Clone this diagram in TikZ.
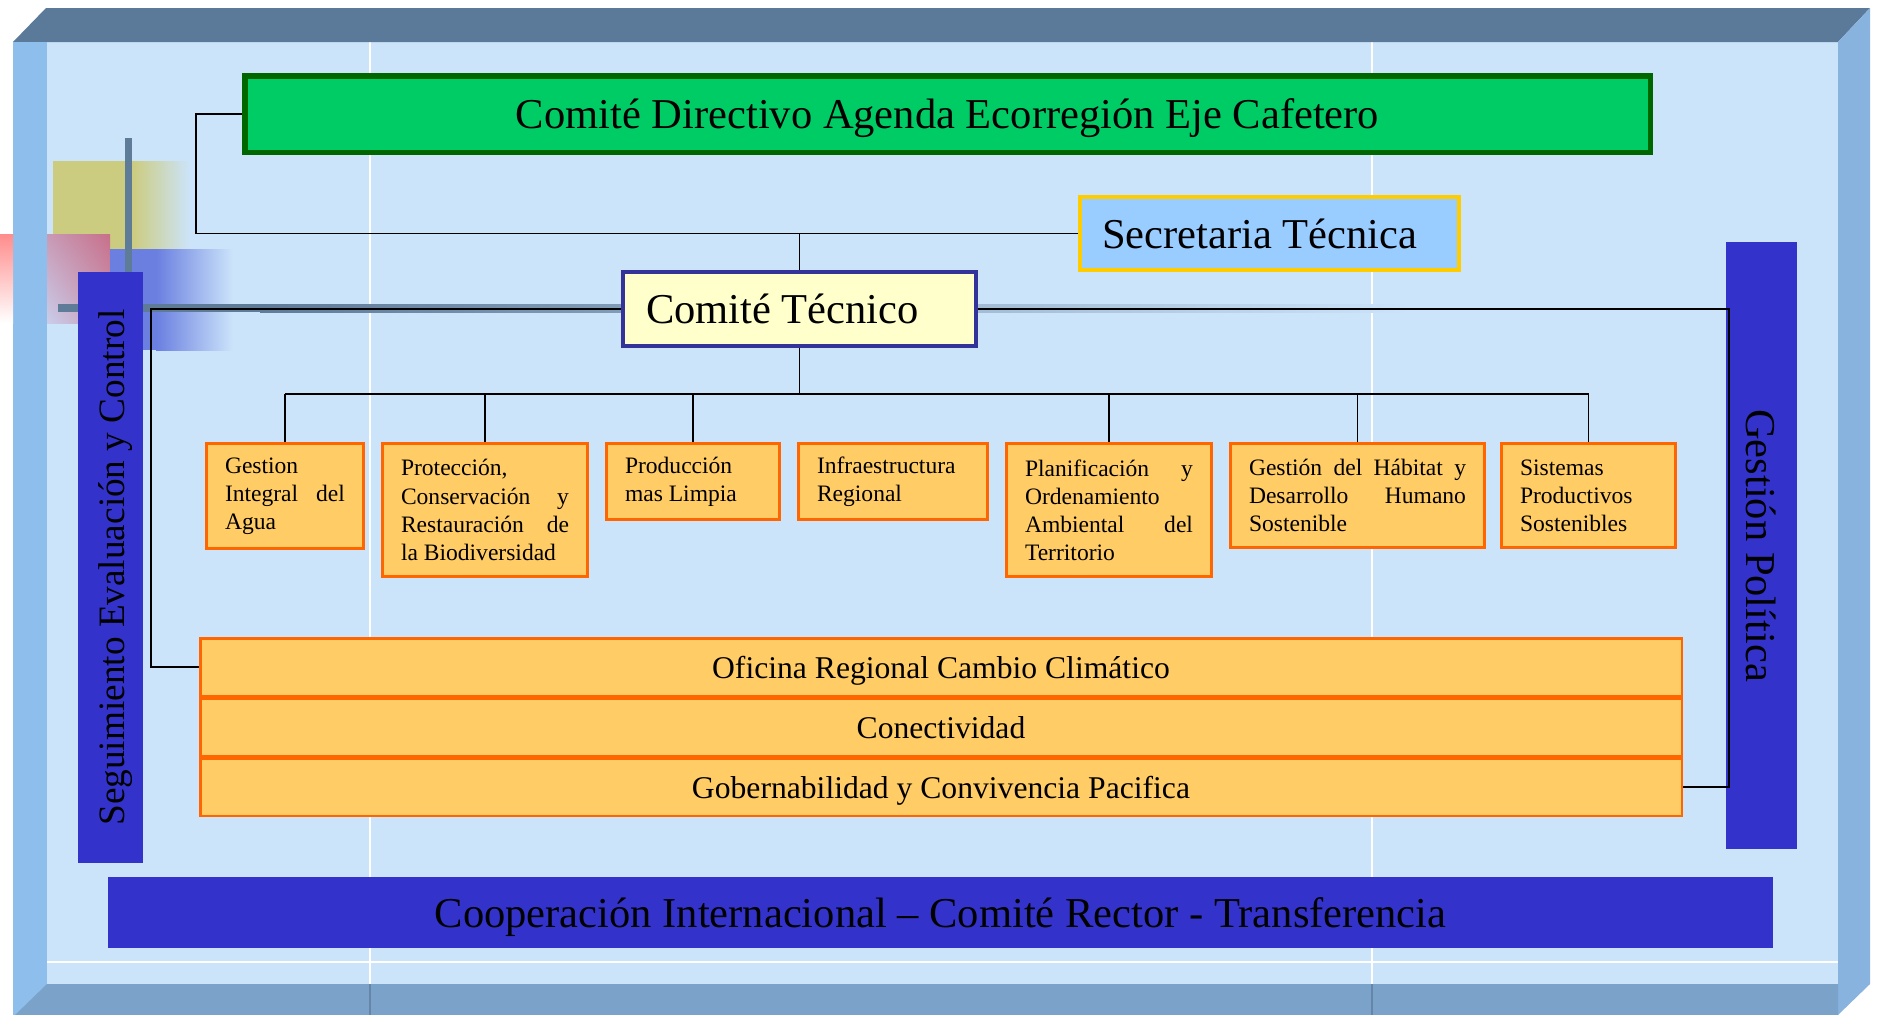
\documentclass[tikz,border=0pt]{standalone}
\usepackage{fontspec}
\setmainfont{Liberation Serif}
\usetikzlibrary{shadings}
\definecolor{panel}{HTML}{CCE4FA}
\definecolor{bevtop}{HTML}{5B7A99}
\definecolor{bevleft}{HTML}{8EBEEB}
\definecolor{bevright}{HTML}{88B3DF}
\definecolor{bevbot}{HTML}{7BA3CA}
\definecolor{dirgreen}{HTML}{00CC66}
\definecolor{dirborder}{HTML}{006600}
\definecolor{secblue}{HTML}{99CCFF}
\definecolor{secyellow}{HTML}{FFCC00}
\definecolor{tecfill}{HTML}{FFFFCC}
\definecolor{tecborder}{HTML}{333399}
\definecolor{areafill}{HTML}{FFCC66}
\definecolor{areaborder}{HTML}{FF6600}
\definecolor{barblue}{HTML}{3333CC}
\definecolor{decoolive}{HTML}{CCCC80}
\definecolor{decopink}{HTML}{C8708A}
\definecolor{decolav}{HTML}{C9CDEA}
\definecolor{decoblue}{HTML}{6A7FE0}
\definecolor{decogray}{HTML}{5E7B98}
\newcommand{\spreadline}[2]{\makebox[#1][s]{#2}}
\tikzset{
  lowered/.style={text height=0.9em, text depth=0.25em, inner ysep=0pt},
  head/.style={font=\fontsize{12.1}{14}\selectfont, lowered, text height=1.1em},
  area/.style={draw=areaborder, fill=areafill, line width=0.3mm, anchor=north west,
    align=justify, inner xsep=1.85mm, font=\fontsize{6.7}{8}\selectfont},
  band/.style={draw=areaborder, fill=areafill, line width=0.25mm, anchor=north west,
    minimum width=148.15mm, minimum height=5.75mm, font=\fontsize{9}{11}\selectfont, lowered},
  bar/.style={fill=barblue, inner sep=0pt, lowered},
  link/.style={line width=0.5pt},
}
\begin{document}
\begin{tikzpicture}[x=0.1mm,y=-0.1mm]
\useasboundingbox (0,0) rectangle (1877,1015);
\fill[panel] (47,42) rectangle (1838,984);
\draw[white,line width=0.15mm] (370,42) -- (370,984) (1372,42) -- (1372,984) (47,962) -- (1838,962);
\fill[bevtop] (46,8) -- (1870,8) -- (1838,42) -- (13,42) -- cycle;
\fill[bevleft] (13,42) rectangle (47,1015);
\fill[bevright] (1870,8) -- (1870,984) -- (1838,1015) -- (1838,42) -- cycle;
\fill[bevbot] (47,984) -- (1838,984) -- (1838,1015) -- (15,1015) -- cycle;
\draw[bevtop!70!bevbot,line width=0.15mm] (370,984) -- (370,1015) (1372,984) -- (1372,1015);

\fill[decoolive] (53,161) rectangle (133,250);
\shade[left color=decoolive, right color=panel] (133,161) rectangle (190,250);
\shade[top color=red!45, bottom color=white] (0,234) rectangle (13,323);
\shade[upper left=decopink!55!decolav, upper right=decopink, lower left=decolav, lower right=decopink!55!decolav] (47,234) rectangle (110,323);
\fill[decoblue] (110,249) rectangle (156,350);
\shade[left color=decoblue, right color=panel] (156,249) rectangle (233,350);
\fill[decogray] (125,138) rectangle (132,272);
\fill[decogray] (58,304) rectangle (260,312);
\shade[left color=decogray, right color=panel] (260,304) rectangle (1410,312);

\node[bar, rotate=90, minimum width=59.1mm, minimum height=6.5mm, font=\fontsize{10.6}{12}\selectfont, text height=1.05em] (seguimiento) at (110.5,567.5) {Seguimiento Evaluación y Control};
\node[bar, rotate=-90, minimum width=60.7mm, minimum height=7.1mm, head] (politica) at (1761.5,545.5) {Gestión Política};
\node[bar, minimum width=166.5mm, minimum height=7.1mm, head] (cooperacion) at (940.5,912.5) {Cooperación Internacional – Comité Rector - Transferencia};

\node[fill=dirgreen, draw=dirborder, line width=0.55mm, minimum width=140.55mm, minimum height=7.65mm, head] (directivo) at (947.5,114) {Comité Directivo Agenda Ecorregión Eje Cafetero};
\node[fill=secblue, draw=secyellow, line width=0.4mm, minimum width=37.9mm, minimum height=7.3mm, text width=33.5mm, inner xsep=2.2mm, align=justify, head] (secretaria) at (1269.5,233.5) {Secretaria Técnica};
\node[fill=tecfill, draw=tecborder, line width=0.4mm, minimum width=35.3mm, minimum height=7.4mm, text width=30.7mm, inner xsep=2.3mm, align=justify, head] (tecnico) at (799.5,309) {Comité Técnico};

\node[area, text width=12mm, minimum width=15.7mm, minimum height=10.5mm] (agua) at (205,442) {Gestion\\\spreadline{12mm}{Integral del}\\Agua};
\node[area, text width=16.8mm, minimum width=20.5mm, minimum height=13.3mm] (proteccion) at (381,442) {Protección,\\\spreadline{16.8mm}{Conservación y}\\\spreadline{16.8mm}{Restauración de}\\la Biodiversidad};
\node[area, text width=13.6mm, minimum width=17.3mm, minimum height=7.6mm] (produccion) at (605,442) {Producción\\mas Limpia};
\node[area, text width=15.2mm, minimum width=18.9mm, minimum height=7.6mm] (infraestructura) at (797,442) {Infraestructura\\Regional};
\node[area, text width=16.8mm, minimum width=20.5mm, minimum height=13.3mm] (planificacion) at (1005,442) {\spreadline{16.8mm}{Planificación y}\\Ordenamiento\\\spreadline{16.8mm}{Ambiental del}\\Territorio};
\node[area, text width=21.7mm, minimum width=25.4mm, minimum height=10.4mm] (habitat) at (1229,442) {\spreadline{21.7mm}{Gestión del Hábitat y}\\\spreadline{21.7mm}{Desarrollo Humano}\\Sostenible};
\node[area, text width=13.7mm, minimum width=17.4mm, minimum height=10.4mm] (sistemas) at (1500,442) {Sistemas\\Productivos\\Sostenibles};

\node[band] (oficina) at (199,637) {Oficina Regional Cambio Climático};
\node[band] (conectividad) at (199,697) {Conectividad};
\node[band] (gobernabilidad) at (199,757) {Gobernabilidad y Convivencia Pacifica};

\draw[link] (directivo.west) -- ++(-46,0) |- (secretaria.west);
\draw[link] (tecnico.north) -- (tecnico.north |- secretaria.west);
\draw[link] (tecnico.south) -- ++(0,46) coordinate (hub);
\draw[link] (agua.north |- hub) -- (sistemas.north |- hub);
\foreach \b in {agua,proteccion,produccion,planificacion,habitat,sistemas}
  \draw[link] (\b.north) -- (\b.north |- hub);
\draw[link] (tecnico.west) -- ++(-470,0) |- (oficina.west);
\draw[link] (tecnico.east) -- ++(751,0) |- (gobernabilidad.east);
\end{tikzpicture}
\end{document}
